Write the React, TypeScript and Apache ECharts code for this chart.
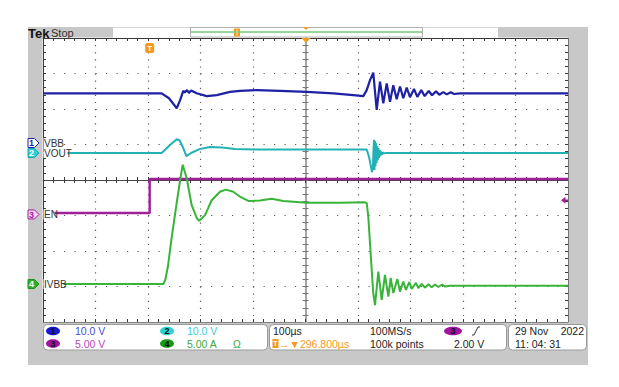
import React, { useEffect, useRef } from "react";
import * as echarts from "echarts";

// Horizontal: 10 div x 100 us/div, time in us from the left edge of the screen
const TIME_MIN = 0;
const TIME_MAX = 1000;
const TIME_PER_DIV = 100;
const DIV_MIN = -4;
const DIV_MAX = 4;

// Channel settings: units per division, ground marker position (divisions from centre)
const CH1_SCALE = 10;
const CH1_OFFSET = 1.042;
const CH2_SCALE = 10;
const CH2_OFFSET = 0.76;
const CH3_SCALE = 5;
const CH3_OFFSET = -0.97;
const CH4_SCALE = 5;
const CH4_OFFSET = -2.93;
const TRIGGER_TIME = 203.2;
const TRIGGER_LEVEL = 2.0;

const CH_LABELS = ["VBB", "VOUT", "EN", "IVBB"];

// CH1 VBB [us, V]
const VBB: number[][] = [
  [0, 14.0], [226, 14.0], [240, 12.6], [254.7, 9.8], [261, 12.0], [267.2, 14.7], [270, 14.2],
  [274.3, 14.9], [278, 14.1], [282, 14.8], [292.8, 14.0], [311.8, 13.2], [330.9, 13.5],
  [356.2, 14.4], [375.2, 14.7], [407, 14.9], [451.4, 14.7], [502.3, 14.4], [553, 14.0],
  [591, 13.5], [610.1, 13.2], [616.6, 14.9], [622.9, 17.7], [629.1, 19.8], [632.4, 14.5],
  [635.6, 9.3], [641.9, 17.3], [648.2, 11.2], [654.7, 16.8], [661, 11.6], [667.2, 16.3],
  [673.7, 12.3], [680, 15.9], [686.3, 12.6], [692.8, 15.6], [699, 12.9], [706.7, 15.2],
  [713, 13.0], [720.6, 14.9], [727, 13.2], [734.7, 14.65], [741, 13.45], [748.6, 14.55],
  [754.9, 13.6], [762.5, 14.35], [769, 13.7], [776.6, 14.3], [782.9, 13.8], [794.3, 14.0],
  [1000, 14.0],
];

// CH2 VOUT [us, V]
const VOUT: number[][] = [
  [0, 0], [226, 0], [241.9, 2.25], [254.7, 3.9], [260, 3.6], [267.2, 1.4], [273, -0.85],
  [282, 0], [298, 1.1], [318, 1.7], [341, 1.55], [366, 1.1], [413, 1.0], [500, 1.0],
  [616.6, 1.0], [621, -1.1], [626.7, -5.4], [628.6, -3.4], [629.5, 0.8], [630.5, 3.7],
  [631.4, -4.8], [632.4, 3.4], [633.3, -3.7], [634.3, 2.8], [635.4, -2.8], [636.6, 2.0],
  [637.7, -2.0], [638.9, 1.4], [640, -1.4], [641.3, 0.85], [642.7, -0.85], [644, 0.42],
  [645.7, -0.42], [647.6, 0.15], [649.5, -0.1], [653, 0], [1000, 0],
];

// CH3 EN [us, V]
const EN: number[][] = [
  [0, 0.2], [203.2, 0.2], [203.2, 5.0], [1000, 5.0],
];

// CH4 IVBB [us, A]
const IVBB: number[][] = [
  [0, 0], [229.1, 0], [233, 0.6], [238, 2.5], [245, 6.5], [255, 11.6], [262, 15.0],
  [266.1, 16.8], [273.7, 14.9], [283.2, 11.1], [292.8, 9.3], [297.7, 8.9], [308.6, 9.7],
  [321.3, 11.8], [337.1, 13.0], [348.6, 13.3], [362.5, 13.0], [375.2, 12.3], [391, 11.7],
  [413.3, 11.75], [435.6, 12.0], [457.7, 11.7], [502.3, 11.45], [565.7, 11.45],
  [613.3, 11.5], [616.6, 11.4], [619.6, 9.5], [622.9, 5.7], [626.1, 2.0], [629.1, -1.3],
  [632.4, -2.96], [638.7, 1.74], [645.1, -2.25], [651.4, 1.27], [657.8, -1.78], [662.2, 0.85],
  [667.3, -1.26], [674.9, 0.71], [680, -1.08], [686.3, 0.33], [691.4, -0.84], [697.8, 0.29],
  [702.2, -0.7], [710.5, 0.15], [714.9, -0.56], [721.3, 0.01], [727.6, -0.52], [734, -0.03],
  [740.3, -0.47], [746.7, -0.07], [753, -0.42], [759.4, -0.1], [765.7, -0.35], [775, -0.25],
  [1000, -0.25],
];

const C1 = "#1e20a5";
const C2 = "#22b2b6";
const C3 = "#a0209c";
const C4 = "#38b538";
const ORANGE = "#f39a1e";
const FRAME = "#c8c8c8";
const FONT = "'Liberation Sans', Arial, Helvetica, sans-serif";

const toDiv = (pts: number[][], scale: number, off: number) =>
  pts.map(([t, v]) => [t, v / scale + off]);

const tickStyle = { color: "#3a3a3a", width: 1 };

const xAx = (extra: any) => ({
  type: "value",
  min: TIME_MIN,
  max: TIME_MAX,
  interval: TIME_PER_DIV,
  axisLabel: { show: false },
  splitLine: { show: false },
  axisLine: { show: true, onZero: false, lineStyle: { color: "#3a3a3a", width: 1 } },
  axisTick: { show: true, inside: true, length: 3, lineStyle: tickStyle },
  minorTick: { show: true, splitNumber: 5, length: 3, lineStyle: tickStyle },
  ...extra,
});
const yAx = (extra: any) => ({
  type: "value",
  min: DIV_MIN,
  max: DIV_MAX,
  interval: 1,
  axisLabel: { show: false },
  splitLine: { show: false },
  axisLine: { show: true, onZero: false, lineStyle: { color: "#3a3a3a", width: 1 } },
  axisTick: { show: true, inside: true, length: 3, lineStyle: tickStyle },
  minorTick: { show: true, splitNumber: 5, length: 3, lineStyle: tickStyle },
  ...extra,
});

export default function App() {
  const ref = useRef<HTMLDivElement>(null);
  useEffect(() => {
    const el = ref.current!;
    const chart = echarts.init(el, null, { renderer: "svg" });
    const GL = 43, GT = 38, GW = 525, GH = 284;
    const line = (data: number[][], color: string, width: number) => ({
      type: "line",
      data,
      symbol: "none",
      showSymbol: false,
      silent: true,
      xAxisIndex: 0,
      yAxisIndex: 0,
      lineStyle: { color, width },
      z: 3,
    });
    chart.setOption({
      animation: false,
      backgroundColor: "#ffffff",
      grid: { left: GL, top: GT, width: GW, height: GH, containLabel: false, outerBoundsMode: "none" },
      xAxis: [
        xAx({
          position: "bottom",
          splitLine: { show: true, lineStyle: { color: "#5a5a5a", width: 1.2, type: [1.2, 5.9] } },
        }),
        xAx({ position: "top" }),
        xAx({ position: "bottom", offset: -GH / 2, axisLine: { show: true, onZero: false, lineStyle: { color: "#444", width: 1 } } }),
        xAx({ position: "bottom", offset: -GH / 2, axisLine: { show: false }, axisTick: { show: true, inside: false, length: 3, lineStyle: tickStyle } }),
      ],
      yAxis: [
        yAx({
          position: "left",
          splitLine: { show: true, lineStyle: { color: "#5a5a5a", width: 1.2, type: [1.2, 9.3] } },
        }),
        yAx({ position: "right" }),
        yAx({ position: "left", offset: -GW / 2, axisLine: { show: true, onZero: false, lineStyle: { color: "#888", width: 1.5 } }, axisTick: { show: true, inside: true, length: 3, lineStyle: { color: "#777" } }, minorTick: { show: true, splitNumber: 5, length: 3, lineStyle: { color: "#777" } } }),
        yAx({ position: "left", offset: -GW / 2, axisLine: { show: false }, axisTick: { show: true, inside: false, length: 3, lineStyle: { color: "#777" } }, minorTick: { show: true, splitNumber: 5, length: 3, lineStyle: { color: "#777" } } }),
      ],
      series: [
        line(toDiv(VBB, CH1_SCALE, CH1_OFFSET), C1, 2.2),
        line(toDiv(VOUT, CH2_SCALE, CH2_OFFSET), C2, 2),
        line(toDiv(EN, CH3_SCALE, CH3_OFFSET), C3, 2.4),
        line(toDiv(IVBB, CH4_SCALE, CH4_OFFSET), C4, 2),
      ],
    });

    const px = (t: number, d: number) => chart.convertToPixel({ gridIndex: 0 }, [t, d]) as number[];
    const Z = 50;
    const rect = (x: number, y: number, w: number, h: number, fill: string, stroke?: string, r = 0) => ({
      type: "rect", z: Z, silent: true,
      shape: { x, y, width: w, height: h, r },
      style: { fill, stroke: stroke || null, lineWidth: 1 },
    });
    const txt = (text: string, x: number, y: number, fill: string, size = 10.5, extra: any = {}) => ({
      type: "text", z: Z + 2, silent: true, x, y,
      style: { text, fill, font: `${size}px ${FONT}`, align: "left", verticalAlign: "middle", ...extra },
    });
    const g: any[] = [];
    // frame
    g.push(rect(28, 27, 14.5, 338, FRAME));
    g.push(rect(568.6, 27, 19.4, 338, FRAME));
    g.push(rect(28, 322.6, 560, 42.4, FRAME));
    g.push(rect(28, 27, 85, 10.5, FRAME));
    g.push(rect(498, 27, 90, 10.5, FRAME));
    g.push({ type: "line", z: Z, silent: true, shape: { x1: 113, y1: 27.5, x2: 498, y2: 27.5 }, style: { stroke: "#d6d6d6", lineWidth: 1 } });
    // top bar
    g.push(txt("Tek", 28, 33, "#111", 13, { font: `bold 13px ${FONT}` }));
    g.push(txt("Stop", 51, 32.5, "#333", 11));
    g.push(rect(190.5, 27.5, 232, 9.5, "#ffffff", "#b0b0b0"));
    g.push({ type: "line", z: Z + 1, silent: true, shape: { x1: 191, y1: 32, x2: 422, y2: 32 }, style: { stroke: "#74c874", lineWidth: 1.5 } });
    g.push(rect(234, 28.5, 6, 8, ORANGE));
    g.push({ type: "line", z: Z + 2, silent: true, shape: { x1: 237, y1: 29.5, x2: 237, y2: 35.5 }, style: { stroke: "#ffe6c0", lineWidth: 1 } });
    g.push({ type: "polygon", z: Z + 2, silent: true, shape: { points: [[303, 27], [309, 27], [306, 30]] }, style: { fill: ORANGE } });
    g.push({ type: "polygon", z: Z + 2, silent: true, shape: { points: [[301.5, 38], [310.5, 38], [306, 43]] }, style: { fill: ORANGE } });
    // trigger T marker
    const [tx] = px(TRIGGER_TIME, 0);
    g.push(rect(tx - 4.5, 43, 9, 10, ORANGE, undefined, 2));
    g.push(txt("T", tx, 48.2, "#ffffff", 8, { align: "center", font: `bold 8px ${FONT}` }));
    // channel ground markers and labels
    const offs = [CH1_OFFSET, CH2_OFFSET, CH3_OFFSET, CH4_OFFSET];
    const mk = [
      { fill: "#ffffff", stroke: C1, num: C1 },
      { fill: "#2ccfd3", stroke: "#1aa8ac", num: "#ffffff" },
      { fill: "#f6d6f4", stroke: C3, num: C3 },
      { fill: "#2fae2f", stroke: "#1f8f1f", num: "#ffffff" },
    ];
    const labW = [19, 24, 11, 20];
    offs.forEach((o, i) => {
      const [, y] = px(0, o);
      g.push({
        type: "polygon", z: Z + 1, silent: true,
        shape: { points: [[28, y - 4.5], [34.5, y - 4.5], [39, y], [34.5, y + 4.5], [28, y + 4.5]] },
        style: { fill: mk[i].fill, stroke: mk[i].stroke, lineWidth: 1 },
      });
      g.push(txt(String(i + 1), 31.5, y + 0.3, mk[i].num, 9, { align: "center", font: `bold 9px ${FONT}` }));
      g.push(rect(43.5, y - 5, labW[i], 10, "#ffffff"));
      g.push(txt(CH_LABELS[i], 44, y + 0.3, "#333333", 10));
    });
    // trigger level marker (right edge)
    const [, ly] = px(0, CH3_OFFSET + TRIGGER_LEVEL / CH3_SCALE);
    g.push({ type: "polygon", z: Z, silent: true, shape: { points: [[561, ly], [565.5, ly - 3.5], [565.5, ly + 3.5]] }, style: { fill: C3 } });
    g.push({ type: "line", z: Z, silent: true, shape: { x1: 565, y1: ly, x2: 568, y2: ly }, style: { stroke: C3, lineWidth: 1.5 } });
    // bottom panels
    g.push(rect(43.5, 324.5, 224, 25.5, "#ffffff", "#9a9a9a", 4));
    g.push(rect(269.5, 324.5, 237, 25.5, "#ffffff", "#9a9a9a", 4));
    g.push(rect(508.5, 324.5, 78, 25.5, "#ffffff", "#9a9a9a", 4));
    const r1 = 331, r2 = 343.5;
    const oval = (cx: number, cy: number, fill: string, n: string, rx = 7) => {
      g.push({ type: "ellipse", z: Z + 1, silent: true, shape: { cx, cy, rx, ry: 4.3 }, style: { fill } });
      g.push(txt(n, cx, cy + 0.3, "#111", 9, { align: "center", font: `bold 9px ${FONT}` }));
    };
    oval(53, r1, "#1717d6", "1");
    oval(53, r2, "#a114a1", "3");
    oval(167, r1, "#2ad2d2", "2");
    oval(167, r2, "#149a14", "4");
    g.push(txt("10.0 V", 75, r1, "#4a4ad8"));
    g.push(txt("5.00 V", 75, r2, "#b548b5"));
    g.push(txt("10.0 V", 187, r1, "#44cccc"));
    g.push(txt("5.00 A", 187, r2, "#3aaa3a"));
    g.push(txt("Ω", 233, r2, "#3aaa3a"));
    g.push(txt("100µs", 273, r1, "#222"));
    g.push(rect(272.5, 339, 6, 9, ORANGE));
    g.push(txt("T", 275.5, r2 + 0.3, "#ffffff", 7, { align: "center", font: `bold 7px ${FONT}` }));
    g.push(txt("→▼296.800µs", 279, r2, ORANGE));
    g.push(txt("100MS/s", 370, r1, "#222"));
    g.push(txt("100k points", 370, r2, "#222"));
    oval(453, r1, "#a114a1", "3", 9);
    g.push({ type: "polyline", z: Z + 1, silent: true, shape: { points: [[472, 335], [474, 335], [478, 327], [480, 327]] }, style: { stroke: "#333", fill: null, lineWidth: 1 } });
    g.push(txt("2.00 V", 454, r2, "#222"));
    g.push(txt("29 Nov", 515, r1, "#222"));
    g.push(txt("2022", 584, r1, "#222", 10.5, { align: "right" }));
    g.push(txt("11: 04: 31", 515, r2, "#222"));

    chart.setOption({ graphic: { elements: g } });
    return () => chart.dispose();
  }, []);
  return (
    <div
      ref={ref}
      style={{ position: "fixed", left: 0, top: 0, width: 619, height: 387, background: "#ffffff" }}
    />
  );
}
